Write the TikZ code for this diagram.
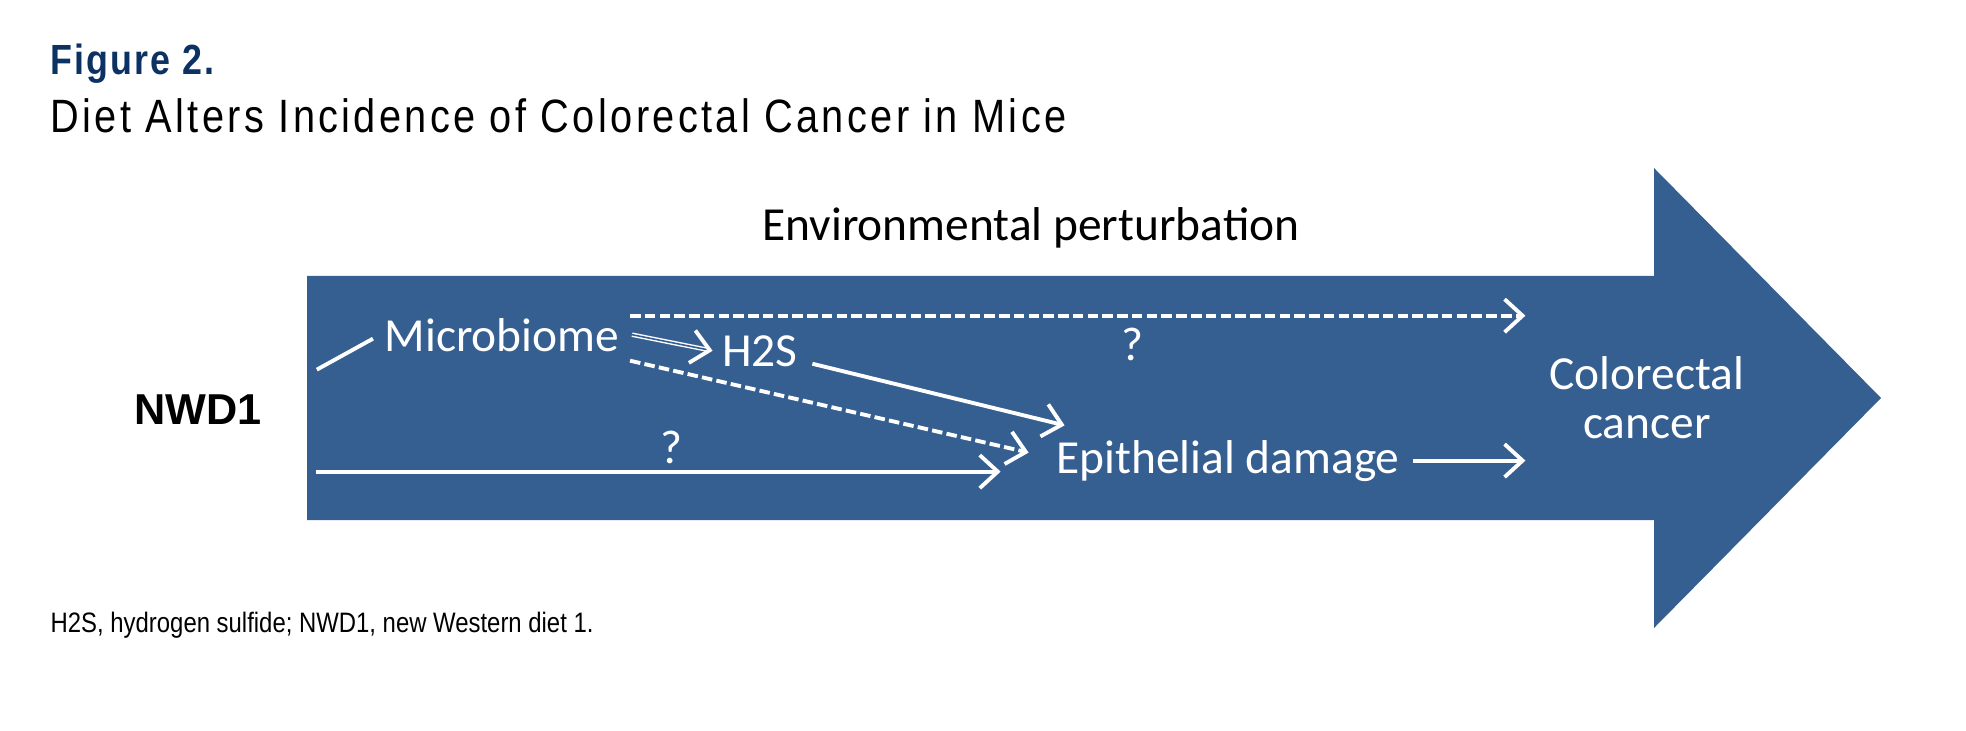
\documentclass[tikz,border=0pt]{standalone}
\usepackage{fontspec}
\setmainfont{Liberation Sans}
\newfontfamily\calib{Carlito}
\newfontfamily\narrow[FakeStretch=0.85]{Liberation Sans}
\newfontfamily\spaced[FakeStretch=0.85,LetterSpace=7.2]{Liberation Sans}
\newfontfamily\figfont[FakeStretch=0.85,LetterSpace=5]{Liberation Sans}
\usetikzlibrary{arrows.meta}

\definecolor{arrowblue}{RGB}{54,95,145}
\definecolor{figblue}{RGB}{12,50,100}

\tikzset{
  lbl/.style={text=white, inner sep=0pt, font=\calib\fontsize{13.5}{14}\selectfont},
  chev/.style={-{Straight Barb[length=1.8mm,width=3.3mm,line width=1.1pt]}},
  wline/.style={white, line width=1.1pt},
  dashline/.style={dash pattern=on 3pt off 1.2pt},
  dbl/.style={draw=white, double=arrowblue, double distance=0.45pt, line width=0.4pt},
}

\begin{document}
\begin{tikzpicture}
\useasboundingbox (0,0) rectangle (19.66,7.30);

\node (fig) [anchor=base west, inner sep=0pt, text=figblue, font=\figfont\bfseries\fontsize{12}{14}\selectfont] at (0.50,6.55) {Figure 2.};
\node (title) [anchor=base west, inner sep=0pt, font=\spaced\fontsize{13.3}{15}\selectfont] at (0.50,5.97) {Diet Alters Incidence of Colorectal Cancer in Mice};

\fill [arrowblue] (3.07,4.54) -- (16.54,4.54) -- (16.54,5.62) -- (18.81,3.32) -- (16.54,1.02) -- (16.54,2.10) -- (3.07,2.10) -- cycle;

\node (env) [anchor=base, inner sep=0pt, font=\calib\fontsize{13.5}{14}\selectfont] at (10.31,4.89) {Environmental perturbation};
\node (nwd) [anchor=base, inner sep=0pt, font=\bfseries\fontsize{12.3}{14}\selectfont] at (1.98,3.06) {NWD1};

\node (micro) [lbl, anchor=base] at (5.02,3.79) {Microbiome};
\node (h2s) [lbl, anchor=base] at (7.60,3.64) {H2S};
\node (epi) [lbl, anchor=base] at (12.28,2.57) {Epithelial damage};
\node (crc) [lbl, anchor=north, align=center] at (16.47,3.74) {Colorectal\\cancer};
\node (q1) [lbl, anchor=base] at (11.32,3.69) {?};
\node (q2) [lbl, anchor=base] at (6.71,2.66) {?};

\draw [wline] ([xshift=5.45mm,yshift=3.95mm]nwd.east) -- ([xshift=-1.1mm,yshift=-0.4mm]micro.west);
\coordinate (nlow) at ([xshift=5.35mm,yshift=-6.25mm]nwd.east);
\draw [wline, chev] (nlow) -- ([xshift=-5.5mm]nlow -| epi.west);

\coordinate (mtop) at ([xshift=1mm,yshift=1.9mm]micro.east);
\draw [wline, dashline, chev] (mtop) -- ([xshift=-2.35mm]mtop -| crc.west);
\draw [dbl, chev] ([xshift=1.2mm]micro.east) -- ([xshift=-0.9mm]h2s.west);
\draw [wline, dashline, chev] ([xshift=1mm,yshift=-2.6mm]micro.east) -- ([xshift=-2.7mm,yshift=0.8mm]epi.west);
\draw [wline, chev] ([xshift=1.4mm,yshift=-1.3mm]h2s.east) -- ([xshift=0.9mm,yshift=1.4mm]epi.north west);
\draw [wline, chev] ([xshift=1.3mm]epi.east) -- ([xshift=-2.35mm]epi.east -| crc.west);

\node (note) [anchor=base west, inner sep=0pt, font=\narrow\fontsize{8}{10}\selectfont] at (0.50,0.98) {H2S, hydrogen sulfide; NWD1, new Western diet 1.};

\end{tikzpicture}
\end{document}
